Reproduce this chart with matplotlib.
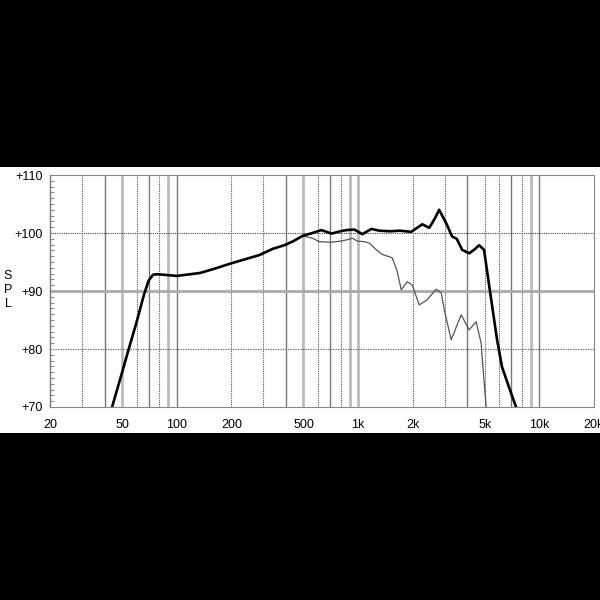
import matplotlib
matplotlib.use("Agg")
import matplotlib.pyplot as plt
from matplotlib.patches import Rectangle

# on-axis response (thick)
f_on = [44, 50, 54, 60, 66, 70, 74, 78, 100, 134, 160, 201, 240, 286, 340, 393, 440, 494,
        560, 628, 713, 800, 862, 954, 1056, 1184, 1309, 1500, 1700, 1964, 2260, 2470,
        2650, 2800, 3060, 3300, 3500, 3750, 4100, 4400, 4650, 4950, 5280, 5840, 6220, 6800, 7430]
spl_on = [70, 76.0, 79.7, 84.6, 89.4, 91.8, 92.8, 92.9, 92.6, 93.1, 93.8, 94.8, 95.5, 96.2, 97.3, 97.9, 98.6, 99.5,
          100.0, 100.5, 99.9, 100.3, 100.5, 100.6, 99.8, 100.7, 100.4, 100.3, 100.4, 100.2, 101.5, 100.9,
          102.5, 104.0, 101.7, 99.4, 99.0, 97.1, 96.5, 97.2, 97.9, 97.1, 91.0, 81.6, 76.9, 73.4, 70]

# off-axis response (thin)
f_off = [44, 50, 54, 60, 66, 70, 74, 78, 100, 134, 160, 201, 240, 286, 340, 393, 440, 494,
         560, 612, 712, 800, 890, 930, 990, 1090, 1160, 1250, 1360, 1490, 1544, 1640, 1730,
         1868, 1990, 2174, 2405, 2696, 2874, 3000, 3262, 3450, 3702, 4098, 4478, 4772, 4833, 5085]
spl_off = [70, 76.0, 79.7, 84.6, 89.4, 91.8, 92.8, 92.9, 92.6, 93.1, 93.8, 94.8, 95.5, 96.2, 97.3, 97.9, 98.6, 99.5,
           99.1, 98.5, 98.4, 98.6, 98.9, 99.1, 98.6, 98.5, 98.2, 97.2, 96.3, 95.9, 95.7, 93.5, 90.2,
           91.6, 91.0, 87.6, 88.5, 90.3, 89.7, 86.5, 81.6, 83.5, 85.9, 83.3, 84.7, 81.0, 78.6, 70]

x_ticks = [20, 50, 100, 200, 500, 1000, 2000, 5000, 10000, 20000]
x_labels = ["20", "50", "100", "200", "500", "1k", "2k", "5k", "10k", "20k"]
y_ticks = [70, 80, 90, 100, 110]
y_labels = ["+70", "+80", "+90", "+100", "+110"]

plt.rcParams['font.family'] = ['Liberation Sans', 'DejaVu Sans']

fig = plt.figure(figsize=(6, 6), dpi=100, facecolor="black")
fig.patches.append(Rectangle((0, 1 - 433 / 600), 1, 266 / 600, transform=fig.transFigure,
                             facecolor="white", edgecolor="none", zorder=-10))

ax = fig.add_axes([50 / 600, 1 - 407 / 600, 544 / 600, 232 / 600])
ax.set_zorder(5)
ax.set_facecolor("white")
ax.set_xscale("log")
ax.set_xlim(20, 20000)
ax.set_ylim(70, 110)

# vertical grid
heavy = [50, 90, 500, 900, 1000, 9000]
for dec in [10, 100, 1000, 10000]:
    for m in range(1, 10):
        v = dec * m
        if v <= 20 or v >= 20000:
            continue
        if v in heavy:
            ax.axvline(v, color="#bbbbbb", lw=2.0, zorder=1)
        elif m in (1, 4, 7):
            ax.axvline(v, color="#777777", lw=1.0, zorder=1)
        else:
            ax.axvline(v, color="#555555", lw=0.8, ls=(0, (1, 1)), zorder=1)

ax.axhline(100, color="#444444", lw=0.8, ls=(0, (1, 1)), zorder=1)
ax.axhline(90, color="#aaaaaa", lw=2.0, zorder=1)
ax.axhline(80, color="#666666", lw=0.9, ls=(0, (1, 1)), zorder=1)

ax.plot(f_off, spl_off, color="#555555", lw=0.9, zorder=3, clip_on=True)
ax.plot(f_on, spl_on, color="black", lw=1.9, zorder=4, clip_on=True, solid_joinstyle="round")

for s in ["top", "bottom", "right"]:
    ax.spines[s].set_color("#888888")
    ax.spines[s].set_linestyle((0, (1, 1)))
    ax.spines[s].set_linewidth(0.8)
ax.spines["left"].set_color("#777777")
ax.spines["left"].set_linewidth(1.0)

ax.set_xticks(x_ticks)
ax.set_xticklabels(x_labels, fontsize=9)
ax.xaxis.set_minor_locator(matplotlib.ticker.NullLocator())
ax.tick_params(axis="x", length=0, pad=9, colors="black")
ax.set_yticks(y_ticks)
ax.set_yticklabels(y_labels, fontsize=9)
ax.set_yticks(range(70, 111), minor=True)
ax.tick_params(axis="y", which="major", length=0, pad=5)
ax.tick_params(axis="y", which="minor", direction="in", length=3, color="#777777")

for i, ch in enumerate("SPL"):
    fig.text(8 / 600, 1 - (276 + 14 * i) / 600, ch, fontsize=9, ha="center", va="center")

fig.savefig("out.png", dpi=100, facecolor="black")
